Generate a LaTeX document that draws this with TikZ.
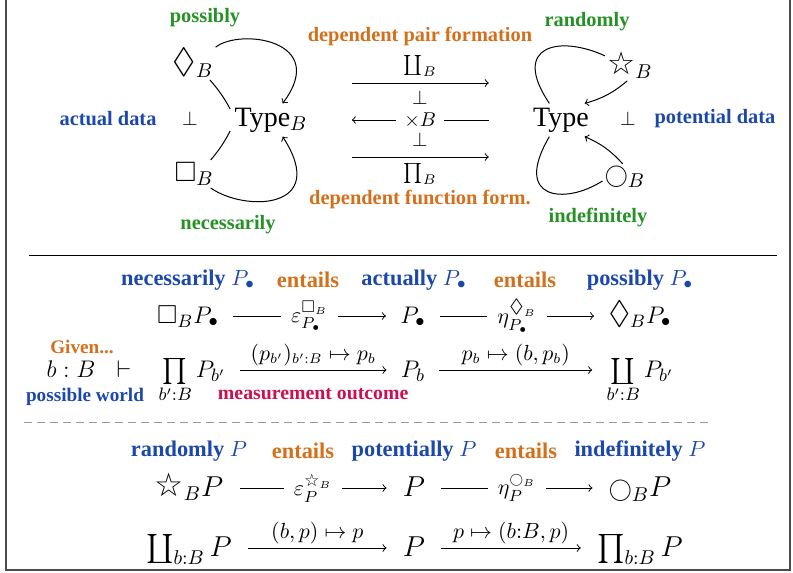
\documentclass[tikz,border=0pt]{standalone}
\usepackage{amsmath,amssymb}
\usepackage{graphicx}
\usepackage{fontspec}
\setmainfont{Liberation Serif}
\newfontfamily\starfont{DejaVu Sans}
\usetikzlibrary{arrows.meta}
\definecolor{modgreen}{RGB}{38,145,38}
\definecolor{datblue}{RGB}{28,72,172}
\definecolor{frmorange}{RGB}{212,112,28}
\definecolor{outred}{RGB}{204,16,78}
\newcommand{\wstar}{\text{\scalebox{1.12}{\starfont ☆}}}
\newcommand{\dia}{\text{\scalebox{1.25}{$\lozenge$}}}
\newcommand{\circop}{\text{\scalebox{0.8}{$\bigcirc$}}}
\tikzset{
  modal/.style={font=\fontsize{10.2}{12}\selectfont\bfseries, text=modgreen, inner sep=1pt},
  datum/.style={font=\fontsize{10.2}{12}\selectfont\bfseries, text=datblue, inner sep=1pt},
  form/.style={font=\fontsize{10.2}{12}\selectfont\bfseries, text=frmorange, inner sep=0pt},
  lbl/.style={font=\fontsize{11.2}{13}\selectfont\bfseries, text=#1, inner sep=1pt},
  slbl/.style={font=\fontsize{9.6}{11}\selectfont\bfseries, text=#1, inner sep=1pt},
  tp/.style={font=\fontsize{14}{16}\selectfont, inner sep=2pt},
  op/.style={font=\fontsize{14}{16}\selectfont, inner sep=1pt},
  sm/.style={font=\fontsize{10}{12}\selectfont, inner sep=0pt},
  perp/.style={font=\fontsize{10}{12}\selectfont, inner sep=0pt},
  cell/.style={font=\fontsize{13}{15}\selectfont, inner xsep=7pt, inner ysep=1pt, text height=9pt, text depth=2pt},
  bcell/.style={font=\fontsize{14.5}{17}\selectfont, inner xsep=8pt, inner ysep=1pt, text height=10pt, text depth=2pt},
  alab/.style={font=\fontsize{10.5}{12}\selectfont, inner sep=2pt},
  desc/.style={font=\fontsize{11}{13}\selectfont, fill=white, inner xsep=5pt, inner ysep=0pt},
  fn/.style={->, >=to, line width=0.5pt},
  adj/.style={line width=0.5pt},
  adjarr/.style={->, >=to, line width=0.5pt},
  frame/.style={draw=black!70, line width=0.8pt},
  rule/.style={draw=black, line width=0.5pt},
  drule/.style={draw=black!40, line width=0.5pt, dash pattern=on 4pt off 2.5pt}
}
\begin{document}
\begin{tikzpicture}[x=0.5pt, y=-0.5pt]
  \useasboundingbox (0,0) rectangle (793,573);
  \draw[frame] (6,0) -- (6,570) -- (790,570) -- (790,0);

  \node[tp] (Tb) at (271,120) {Type$_B$};
  \node[tp] (T) at (561,120) {Type};
  \node[op] (dia) at (193,63) {$\dia_B$};
  \node[op] (box) at (194,174) {$\square_B$};
  \node[op] (star) at (630,65) {\wstar$_B$};
  \node[op] (circ) at (625,177) {$\circop_B$};

  \node[modal] (lposs) at (205,18) {possibly};
  \node[modal] (lnec) at (228,225) {necessarily};
  \node[modal] (lrand) at (587,22) {randomly};
  \node[modal] (lindef) at (598,218) {indefinitely};
  \node[datum] (lact) at (108,119) {actual data};
  \node[datum] (lpot) at (715,119) {potential data};
  \node[form] (lpair) at (420,36) {dependent pair formation};
  \node[form] (lfun) at (420,199) {dependent function form.};
  \node[perp] (perpL) at (190,119) {$\perp$};
  \node[perp] (perpR) at (628,119) {$\perp$};
  \node[perp] (perpU) at (420,98) {$\perp$};
  \node[perp] (perpD) at (420,140) {$\perp$};

  \draw[adj] (Tb.165) to[bend right=6] (dia.-45);
  \draw[adjarr] (dia.35) .. controls (240,28) and (330,40) .. (Tb.55);
  \draw[adj] (Tb.195) to[bend left=6] (box.40);
  \draw[adjarr] (box.-40) .. controls (245,212) and (330,210) .. (Tb.-55);
  \draw[adj] (star.160) .. controls (560,35) and (510,45) .. (T.125);
  \draw[adjarr] (star.-100) to[bend left=12] (T.35);
  \draw[adj] (T.-125) .. controls (512,200) and (565,205) .. (circ.190);
  \draw[adjarr] (circ.100) to[bend right=12] (T.-35);

  \draw[fn, shorten <=20pt, shorten >=20pt] ([yshift=18.5pt]Tb.east) -- node[sm, above=3pt] {$\coprod_B$} ([yshift=18.5pt]T.west);
  \draw[fn, shorten <=20pt, shorten >=20pt] (T.west) -- node[sm, fill=white, inner xsep=4pt] {$\times B$} (Tb.east);
  \draw[fn, shorten <=20pt, shorten >=20pt] ([yshift=-18.5pt]Tb.east) -- node[sm, below=3pt] {$\prod_B$} ([yshift=-18.5pt]T.west);

  \draw[rule] (29,255) -- (777,255);

  \node[lbl=datblue] (hNec) at (188,280) {necessarily $P_\bullet$};
  \node[lbl=frmorange] (hEnt1) at (308,280) {entails};
  \node[lbl=datblue] (hAct) at (414,280) {actually $P_\bullet$};
  \node[lbl=frmorange] (hEnt2) at (525,280) {entails};
  \node[lbl=datblue] (hPos) at (640,280) {possibly $P_\bullet$};

  \node[cell] (nBox) at (188,316) {$\square_B P_\bullet$};
  \node[cell] (nAct) at (413,316) {$P_\bullet$};
  \node[cell] (nDia) at (640,316) {$\dia_B P_\bullet$};
  \draw[fn] (nBox) -- node[desc] {$\varepsilon_{P_\bullet}^{\square_B}$} (nAct);
  \draw[fn] (nAct) -- node[desc] {$\eta_{P_\bullet}^{\dia_B}$} (nDia);

  \node[slbl=frmorange] (hGiv) at (82,347) {Given...};
  \node[slbl=datblue] (hWorld) at (85,397) {possible world};
  \node[cell] (ctx) at (71,370) {$b:B$};
  \node[cell] (turn) at (124,370) {$\vdash$};
  \node[cell] (nProd) at (192,370) {$\prod\limits_{b':B} P_{b'}$};
  \node[cell] (nPb) at (413,370) {$P_b$};
  \node[cell] (nCop) at (640,370) {$\coprod\limits_{b':B} P_{b'}$};
  \draw[fn] (nProd) -- node[alab, above] {$(p_{b'})_{b':B} \mapsto p_b$}
    node[font=\fontsize{9.9}{11}\selectfont\bfseries, text=outred, inner sep=1pt, below=8pt] {measurement outcome} (nPb);
  \draw[fn] (nPb) -- node[alab, above] {$p_b \mapsto (b, p_b)$} (nCop);

  \draw[drule] (24,422) -- (708,422);

  \node[lbl=datblue] (hRand) at (189,451) {randomly $P$};
  \node[lbl=frmorange] (hEnt3) at (303,451) {entails};
  \node[lbl=datblue] (hPot) at (414,451) {potentially $P$};
  \node[lbl=frmorange] (hEnt4) at (526,451) {entails};
  \node[lbl=datblue] (hInd) at (640,451) {indefinitely $P$};

  \node[bcell] (nStar) at (189,488) {$\wstar_B P$};
  \node[bcell] (nPot) at (414,488) {$P$};
  \node[bcell] (nCirc) at (640,488) {$\circop_B P$};
  \draw[fn] (nStar) -- node[desc] {$\varepsilon_P^{\wstar_B}$} (nPot);
  \draw[fn] (nPot) -- node[desc] {$\eta_P^{\circop_B}$} (nCirc);

  \node[bcell] (nSig) at (189,548) {$\coprod_{b:B} P$};
  \node[bcell] (nP2) at (414,548) {$P$};
  \node[bcell] (nPi) at (640,548) {$\prod_{b:B} P$};
  \draw[fn] (nSig) -- node[alab, above] {$(b, p) \mapsto p$} (nP2);
  \draw[fn] (nP2) -- node[alab, above] {$p \mapsto (b{:}B, p)$} (nPi);
\end{tikzpicture}
\end{document}
